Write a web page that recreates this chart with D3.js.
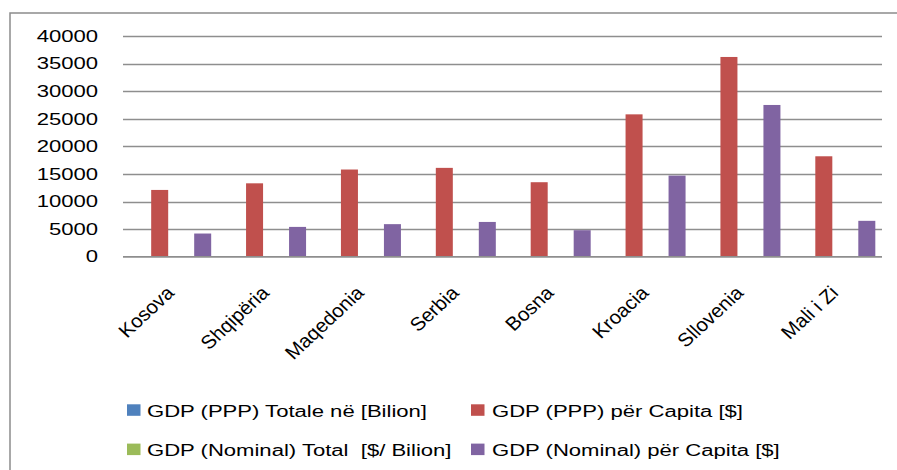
<!DOCTYPE html>
<html>
<head>
<meta charset="utf-8">
<script src="https://cdn.jsdelivr.net/npm/d3@7"></script>
<style>
  html, body { margin: 0; padding: 0; background: #fff; }
  svg { display: block; }
  text { font-family: "Liberation Sans", Arial, sans-serif; fill: #000; }
</style>
</head>
<body>
<svg id="chart" width="897" height="470"></svg>
<script>
// ---- data ----
const categories = ["Kosova", "Shqipëria", "Maqedonia", "Serbia", "Bosna", "Kroacia", "Sllovenia", "Mali i Zi"];
const seriesNames = [
  "GDP (PPP) Totale në [Bilion]",
  "GDP (PPP) për Capita [$]",
  "GDP (Nominal) Total  [$/ Bilion]",
  "GDP (Nominal) për Capita [$]"
];
const pppTotal     = [12.7, 28, 21, 80, 31, 78, 57, 7.5];
const pppPerCapita = [12100, 13300, 15800, 16100, 13500, 25800, 36200, 18200];
const nomTotal     = [6.5, 12.9, 9.6, 37, 17, 57, 45, 4.2];
const nomPerCapita = [4200, 5400, 5900, 6300, 4800, 14700, 27500, 6500];
const seriesColors = ["#4F81BD", "#C0504D", "#9BBB59", "#8064A2"];
const yTicks = [0, 5000, 10000, 15000, 20000, 25000, 30000, 35000, 40000];

const seriesValues = [pppTotal, pppPerCapita, nomTotal, nomPerCapita];

const svg = d3.select("#chart");

// frame (extends beyond the visible area)
svg.append("rect")
  .attr("x", 10).attr("y", 13).attr("width", 1000).attr("height", 1000)
  .attr("fill", "none").attr("stroke", "#8c8c8c").attr("stroke-width", 1.5);

const x0 = d3.scaleBand().domain(categories).range([123, 882]).paddingInner(0).paddingOuter(0);
const x1 = d3.scaleBand().domain(d3.range(4)).range([0, x0.bandwidth()])
  .paddingInner(0.209).paddingOuter(0.311);
const y = d3.scaleLinear().domain([0, 40000]).range([256.7, 36]);

const SX = 1.38;

// gridlines
svg.append("g").selectAll("line").data(yTicks.filter(d => d > 0)).join("line")
  .attr("x1", 123).attr("x2", 882)
  .attr("y1", d => Math.round(y(d)) + 0.5).attr("y2", d => Math.round(y(d)) + 0.5)
  .attr("stroke", "#8e8e8e").attr("stroke-width", 1.3);

// y tick labels
svg.append("g").selectAll("text").data(yTicks).join("text")
  .attr("transform", d => `translate(98,${y(d)}) scale(${SX},1)`)
  .attr("text-anchor", "end").attr("dy", "0.36em")
  .style("font-size", "16px")
  .text(d => d);

// bars
const groups = svg.append("g").selectAll("g").data(categories).join("g")
  .attr("transform", d => `translate(${x0(d)},0)`);
groups.selectAll("rect")
  .data((c, i) => seriesValues.map((vals, s) => ({ s, v: vals[i] })))
  .join("rect")
  .attr("x", d => x1(d.s))
  .attr("width", x1.bandwidth())
  .attr("y", d => y(d.v))
  .attr("height", d => y(0) - y(d.v))
  .attr("fill", d => seriesColors[d.s]);

// baseline
svg.append("line")
  .attr("x1", 123).attr("x2", 882)
  .attr("y1", y(0) + 0.2).attr("y2", y(0) + 0.2)
  .attr("stroke", "#8e8e8e").attr("stroke-width", 1.8);

// x labels (rotated)
svg.append("g").selectAll("text").data(categories).join("text")
  .attr("transform", d => `translate(${x0(d) + x0.bandwidth() / 2 + 5},294) scale(1.08,1) rotate(-45)`)
  .attr("text-anchor", "end")
  .style("font-size", "19px")
  .text(d => d);

// legend
const legendItems = [
  { s: 0, sx: 127, tx: 147, base: 416.7 },
  { s: 1, sx: 471, tx: 492, base: 416.7 },
  { s: 2, sx: 127, tx: 147, base: 456 },
  { s: 3, sx: 471, tx: 492, base: 456 }
];
const lg = svg.append("g");
lg.selectAll("rect").data(legendItems).join("rect")
  .attr("x", d => d.sx).attr("y", d => d.base - 12.4)
  .attr("width", 13.5).attr("height", 11.5)
  .attr("fill", d => seriesColors[d.s]);
lg.selectAll("text").data(legendItems).join("text")
  .attr("transform", d => `translate(${d.tx},${d.base}) scale(${SX},1)`)
  .style("font-size", "16px")
  .attr("xml:space", "preserve")
  .text(d => seriesNames[d.s]);
</script>
</body>
</html>
